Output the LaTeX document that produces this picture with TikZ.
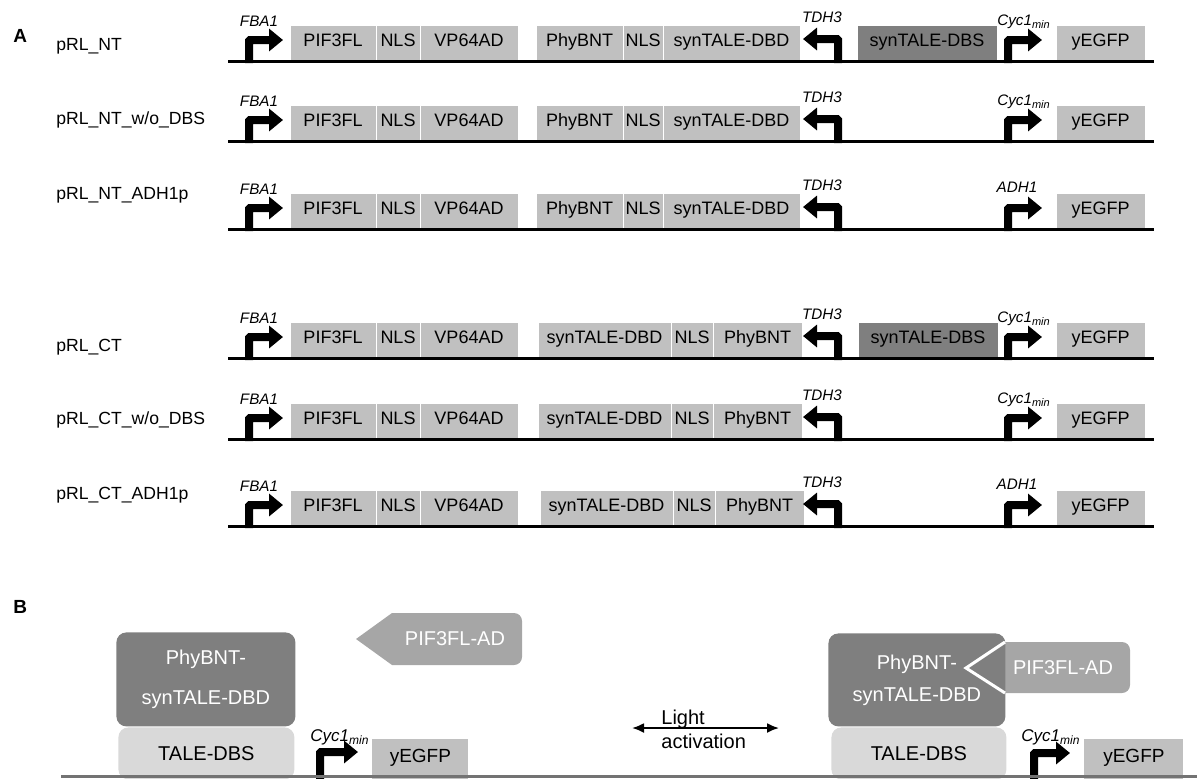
\documentclass[tikz,border=0pt]{standalone}
\usepackage{fontspec}
\setmainfont{Liberation Sans}
\usetikzlibrary{arrows.meta}
\definecolor{genegray}{HTML}{C0C0C0}
\definecolor{dbsgray}{HTML}{7F7F7F}
\definecolor{talegray}{HTML}{D9D9D9}
\definecolor{adgray}{HTML}{A6A6A6}
\tikzset{
  gene/.style={fill=genegray,draw=white,line width=0.5pt,anchor=south west,outer sep=0pt,
    minimum height=18pt,inner sep=0pt,text height=6.5pt,text depth=3.5pt,font=\fontsize{9}{10}\selectfont},
  dbsbox/.style={gene,fill=dbsgray},
  promoter/.style={line width=4pt,rounded corners=0.5pt,-{Triangle[length=7pt,width=11pt]}},
  promlabel/.style={font=\fontsize{7.6}{8}\selectfont\itshape,inner sep=0pt,anchor=base},
  cyclabel/.style={font=\fontsize{8.5}{9}\selectfont\itshape,inner sep=0pt,anchor=base west},
  plasmid/.style={font=\fontsize{8.8}{10}\selectfont,anchor=base west,inner sep=0pt},
  dna/.style={line width=1.5pt},
  panel/.style={font=\fontsize{9.5}{10}\selectfont\bfseries,anchor=base west,inner sep=0pt},
  fusion/.style={fill=dbsgray,text=white,rounded corners=5pt,anchor=north west,align=center,
    inner sep=0pt,font=\fontsize{10}{20}\selectfont},
  tale/.style={fill=talegray,rounded corners=5pt,anchor=north west,minimum height=26pt,
    inner sep=0pt,font=\fontsize{10}{12}\selectfont},
  adtext/.style={text=white,inner sep=0pt,font=\fontsize{10}{12}\selectfont},
  gfpB/.style={fill=genegray,anchor=north west,minimum height=20pt,inner sep=0pt,
    text height=7pt,text depth=4pt,font=\fontsize{9.5}{10}\selectfont},
  lightarrow/.style={line width=1pt,{Latex[length=6pt,width=5pt]}-{Latex[length=6pt,width=5pt]}}
}
\begin{document}
\begin{tikzpicture}[x=0.5pt,y=-0.5pt]
\useasboundingbox (0,0) rectangle (1197,778);

% panel A
\node[panel] (A) at (13,42) {A};
\node[plasmid] (nt1) at (56,50) {pRL\_NT};
\node[plasmid] (nt2) at (56,124) {pRL\_NT\_w/o\_DBS};
\node[plasmid] (nt3) at (56,199) {pRL\_NT\_ADH1p};
\node[plasmid] (ct1) at (56,351) {pRL\_CT};
\node[plasmid] (ct2) at (56,424) {pRL\_CT\_w/o\_DBS};
\node[plasmid] (ct3) at (56,499) {pRL\_CT\_ADH1p};

% N-terminal fusions
\foreach \ly/\i in {61/1,141/2,229/3}{
  \node[gene,minimum width=43.5pt] (phy\i) at (536,\ly) {PhyBNT};
  \node[gene,minimum width=20pt] (nlsb\i) at (phy\i.south east) {NLS};
  \node[gene,minimum width=68.5pt] (dbd\i) at (nlsb\i.south east) {synTALE-DBD};
}
% C-terminal fusions
\foreach \ly/\i/\dx in {358/4/0,439/5/0,526/6/2}{
  \node[gene,minimum width=66.5pt] (dbd\i) at (538+\dx,\ly) {synTALE-DBD};
  \node[gene,minimum width=21pt] (nlsb\i) at (dbd\i.south east) {NLS};
  \node[gene,minimum width=44.5pt] (phy\i) at (nlsb\i.south east) {PhyBNT};
}
% binding sites
\node[dbsbox,minimum width=70pt] (dbs1) at (857,61) {synTALE-DBS};
\node[dbsbox,minimum width=70pt] (dbs4) at (858,358) {synTALE-DBS};

% parts shared by all rows
\foreach \ly [count=\i] in {61,141,229,358,439,526}{
  \node[gene,minimum width=43pt] (pif\i) at (290,\ly) {PIF3FL};
  \node[gene,minimum width=22pt] (nlsa\i) at (pif\i.south east) {NLS};
  \node[gene,minimum width=49pt] (vp\i) at (nlsa\i.south east) {VP64AD};
  \node[gene,minimum width=44.5pt] (gfp\i) at (1056,\ly) {yEGFP};
  \draw[dna] (228,\ly) -- (1154,\ly);
  \draw[promoter] (249,\ly+2) -- (249,\ly-21) -- (283,\ly-21);
  \node[promlabel] (fba\i) at (259,\ly-35) {FBA1};
  \draw[promoter] (838,\ly+2) -- (838,\ly-22) -- (803,\ly-22);
  \node[promlabel] (tdh\i) at (822,\ly-39) {TDH3};
  \draw[promoter] (1008,\ly+2) -- (1008,\ly-21) -- (1042,\ly-21);
}
\foreach \ly/\i in {61/1,141/2,358/4,439/5}
  \node[promlabel,anchor=base west] (cyc\i) at (997,\ly-36) {Cyc1\raisebox{-1.5pt}{\fontsize{5.5}{6}\selectfont min}};
\foreach \ly/\i in {229/3,526/6}
  \node[promlabel] (adh\i) at (1017,\ly-37) {ADH1};

% panel B
\node[panel] (B) at (13,613) {B};

% before light
\node[tale,minimum width=88pt] (dbsL) at (118,727) {TALE-DBS};
\node[fusion,minimum width=89.5pt,minimum height=47pt] (fusL) at (116,632) {PhyBNT-\\synTALE-DBD};
\draw[fill=adgray,draw=none] (356,639) -- (392,613) [rounded corners=4pt] -- (522,613) -- (522,665) [sharp corners] -- (392,665) -- cycle;
\node[adtext] (adL) at (455,639) {PIF3FL-AD};
\node[gfpB,minimum width=48pt] (gfpL) at (372,739) {yEGFP};
\draw[promoter] (320,779) -- (320,752) -- (358,752);
\node[cyclabel] (cycL) at (310,741) {Cyc1\raisebox{-1.5pt}{\fontsize{6}{7}\selectfont min}};

% after light
\draw[fill=adgray,draw=none] (966,668) -- (1003,642) [rounded corners=4pt] -- (1130,642) -- (1130,693) [sharp corners] -- (1003,693) -- cycle;
\node[fusion,minimum width=88.5pt,minimum height=46.5pt,font=\fontsize{10}{16}\selectfont] (fusR) at (828,633) {PhyBNT-\\synTALE-DBD};
\draw[white,line width=1.5pt] (1005,642) -- (966,668) -- (1005,693);
\node[adtext] (adR) at (1063,668) {PIF3FL-AD};
\node[tale,minimum width=87.5pt] (dbsR) at (831,727) {TALE-DBS};
\node[gfpB,minimum width=49.5pt] (gfpR) at (1084,739) {yEGFP};
\draw[promoter] (1034,779) -- (1034,753) -- (1070,753);
\node[cyclabel] (cycR) at (1021,741) {Cyc1\raisebox{-1.5pt}{\fontsize{6}{7}\selectfont min}};

\draw[line width=1.5pt,black!55] (61,776) -- (1197,776);

% light switch
\coordinate (lightL) at (632,728);
\coordinate (lightR) at (779,728);
\draw[lightarrow] (lightL) -- (lightR);
\node[font=\fontsize{10}{12}\selectfont,align=left,anchor=west,inner sep=0pt] (light) at (661,729) {Light\\activation};
\end{tikzpicture}
\end{document}
